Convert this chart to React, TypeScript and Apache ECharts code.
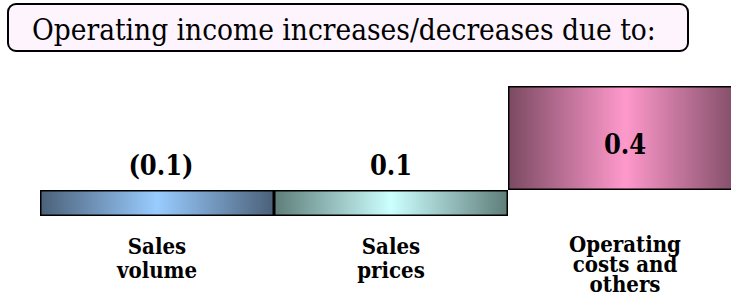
import React, { useEffect, useRef } from "react";
import * as echarts from "echarts";

const categories = ["Sales\nvolume", "Sales\nprices", "Operating\ncosts and\nothers"];
const changes = [-0.1, 0.1, 0.4];
const startLevel = 0.1;
const titleText = "Operating income increases/decreases due to:";

const gradients = [
  ["#4b6179", "#99ccff"],
  ["#5f7e7a", "#ccffff"],
  ["#7b4a62", "#ff99cc"],
];

const COND = "DejaVu Serif Condensed";

function grad(dark: string, light: string) {
  return new echarts.graphic.LinearGradient(0, 0, 1, 0, [
    { offset: 0, color: dark },
    { offset: 0.5, color: light },
    { offset: 1, color: dark },
  ]);
}

export default function App() {
  const ref = useRef<HTMLDivElement>(null);
  useEffect(() => {
    if (!ref.current) return;
    const chart = echarts.init(ref.current, undefined, { renderer: "svg" });
    let level = startLevel;
    const bases: number[] = [];
    const heights: number[] = [];
    changes.forEach((c) => {
      const lo = c < 0 ? level + c : level;
      bases.push(lo);
      heights.push(Math.abs(c));
      level += c;
    });
    const fmt = (i: number) => {
      const v = changes[i];
      return v < 0 ? `(${Math.abs(v).toFixed(1)})` : v.toFixed(1);
    };
    chart.setOption({
      animation: false,
      grid: { left: 40, top: 8, width: 702, height: 208, outerBoundsMode: "none", containLabel: false },
      xAxis: {
        type: "category",
        data: categories.map((c, i) => ({
          value: c,
          textStyle: { lineHeight: i === 2 ? 20 : 24 },
        })),
        axisLine: { show: false },
        axisTick: { show: false },
        axisLabel: {
          interval: 0,
          margin: 18,
          fontFamily: COND,
          fontWeight: "bold",
          fontSize: 22,
          color: "#000",
          verticalAlign: "top",
        },
      },
      yAxis: {
        type: "value",
        min: 0,
        max: 0.8,
        show: false,
        splitLine: { show: false },
      },
      series: [
        {
          type: "bar",
          stack: "w",
          data: bases,
          itemStyle: { color: "transparent" },
          barCategoryGap: 0,
          silent: true,
        },
        {
          type: "bar",
          stack: "w",
          barCategoryGap: 0,
          data: heights.map((h, i) => ({
            value: h,
            itemStyle: {
              color: grad(gradients[i][0], gradients[i][1]),
              borderColor: "#000",
              borderWidth: 1.5,
            },
            label: {
              show: true,
              position: i === 2 ? "inside" : "top",
              distance: 11,
              offset: i === 2 ? [0, 6] : [i === 0 ? 4 : 0, 0],
              formatter: () => fmt(i),
              fontFamily: COND,
              fontWeight: "bold",
              fontSize: 27,
              color: "#000",
            },
          })),
        },
      ],
      graphic: [
        {
          type: "rect",
          shape: { x: 8, y: 4, width: 680, height: 47, r: 8 },
          style: { fill: "#fdf4fd", stroke: "#000", lineWidth: 2 },
        },
        {
          type: "text",
          x: 32,
          y: 30,
          style: {
            text: titleText,
            fontFamily: COND,
            fontSize: 29.5,
            fill: "#000",
            verticalAlign: "middle",
            align: "left",
          },
        },
      ],
    });
    return () => chart.dispose();
  }, []);
  return (
    <div
      ref={ref}
      style={{ position: "absolute", left: 0, top: 0, width: 731, height: 297 }}
    />
  );
}
